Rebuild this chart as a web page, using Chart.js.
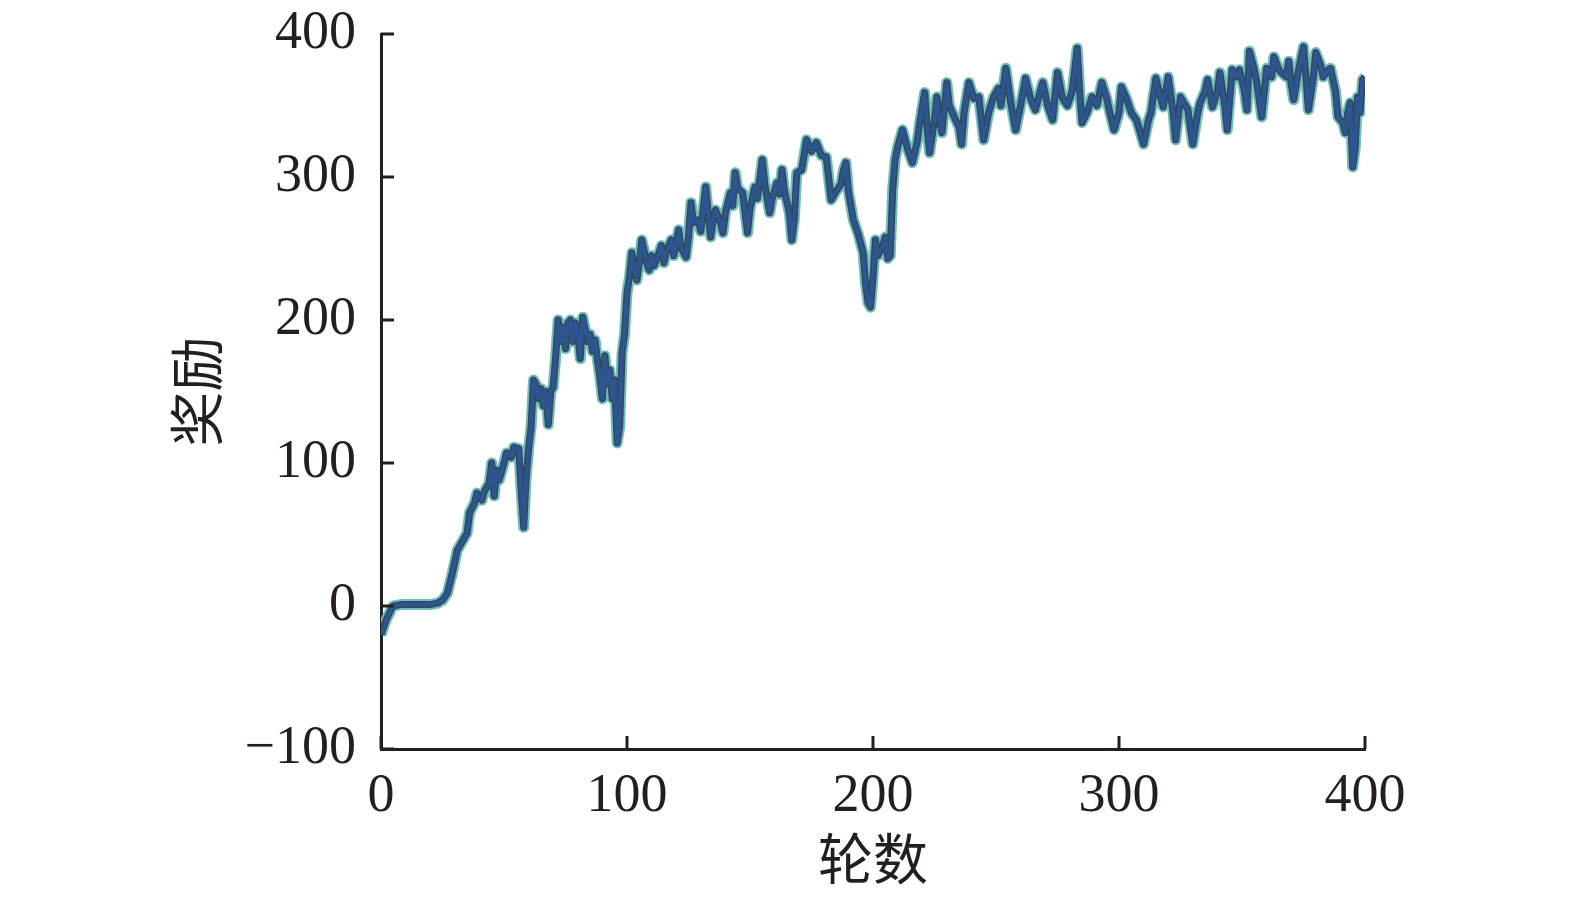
<!DOCTYPE html>
<html>
<head>
<meta charset="utf-8">
<script src="https://cdn.jsdelivr.net/npm/chart.js@4/dist/chart.umd.min.js"></script>
<style>
  body { margin: 0; background: #fff; }
  canvas { display: block; }
</style>
</head>
<body>
<canvas id="myChart" width="1575" height="897"></canvas>
<script>
// episode numbers and reward
var episodes = [0, 2, 4, 5, 8, 12, 16, 20, 23, 25, 27, 29, 31, 33, 35, 36, 38, 39, 41, 42,
    44, 45, 46, 47, 48, 50, 51, 53, 54, 56, 57, 58, 59, 60, 61, 62, 63, 64, 65, 66,
    67, 68, 69, 70, 71, 72, 73, 74, 75, 76, 77, 78, 79, 80, 81, 82, 84, 85, 86, 87,
    88, 89, 90, 91, 92, 93, 94, 95, 96, 97, 98, 99, 100, 101, 102, 103, 104, 105, 106, 107,
    108, 109, 110, 111, 113, 114, 115, 116, 118, 119, 121, 122, 124, 125, 126, 127, 129, 130, 132, 133,
    134, 135, 136, 138, 139, 140, 142, 143, 144, 145, 147, 148, 149, 150, 152, 153, 155, 156, 158, 159,
    161, 162, 163, 164, 166, 167, 168, 169, 171, 173, 175, 177, 179, 181, 183, 185, 187, 188, 189, 190,
    192, 194, 196, 197, 198, 199, 200, 201, 202, 204, 205, 206, 207, 208, 209, 210, 212, 214, 216, 218,
    219, 221, 222, 223, 225, 226, 227, 228, 230, 231, 233, 235, 236, 237, 239, 241, 243, 245, 247, 249,
    251, 252, 254, 256, 258, 260, 262, 264, 266, 268, 269, 271, 273, 275, 277, 279, 281, 283, 284, 285,
    287, 289, 291, 293, 295, 296, 298, 300, 301, 303, 305, 307, 308, 310, 312, 313, 315, 317, 318, 320,
    322, 323, 325, 327, 328, 330, 332, 333, 335, 336, 338, 340, 341, 343, 344, 346, 348, 349, 351, 352,
    353, 355, 356, 358, 360, 362, 363, 365, 366, 368, 369, 370, 371, 373, 375, 376, 377, 379, 380, 382,
    383, 385, 386, 388, 389, 391, 392, 393, 394, 395, 396, 397, 398, 399, 400];

var rewards = [-20, -10, -3, 0, 1, 1, 1, 1, 2, 4, 9, 23, 39, 45, 51, 65, 72, 79, 74, 80,
    86, 100, 77, 95, 88, 100, 107, 104, 111, 110, 80, 55, 90, 110, 125, 158, 155, 145, 152, 140,
    150, 127, 150, 153, 174, 200, 185, 195, 180, 198, 200, 185, 198, 190, 173, 202, 185, 190, 178, 186,
    172, 160, 145, 175, 155, 165, 145, 158, 114, 125, 177, 190, 219, 230, 247, 238, 228, 240, 256, 248,
    240, 235, 245, 238, 247, 252, 240, 248, 256, 245, 263, 250, 244, 258, 282, 268, 270, 262, 293, 275,
    258, 270, 277, 268, 261, 275, 289, 280, 303, 292, 289, 275, 261, 278, 293, 285, 312, 295, 275, 285,
    296, 288, 305, 290, 275, 256, 270, 303, 305, 326, 318, 324, 315, 314, 284, 290, 295, 305, 310, 290,
    270, 260, 247, 225, 212, 209, 230, 256, 245, 252, 258, 243, 245, 291, 312, 321, 333, 320, 310, 325,
    338, 359, 335, 317, 340, 356, 340, 331, 366, 350, 342, 335, 323, 345, 366, 355, 356, 326, 345, 356,
    362, 350, 376, 352, 333, 350, 369, 355, 347, 360, 366, 350, 340, 373, 355, 350, 360, 390, 360, 338,
    345, 356, 350, 366, 355, 347, 333, 345, 363, 355, 345, 340, 335, 323, 340, 345, 369, 355, 349, 370,
    345, 326, 356, 350, 347, 323, 345, 352, 360, 368, 349, 360, 373, 350, 333, 375, 370, 375, 360, 347,
    388, 375, 366, 342, 376, 370, 384, 375, 373, 370, 381, 365, 354, 375, 391, 370, 347, 370, 387, 378,
    370, 375, 376, 360, 342, 338, 331, 345, 352, 307, 320, 356, 345, 368, 370];

var xTicks = [0, 100, 200, 300, 400];
var yTicks = [-100, 0, 100, 200, 300, 400];

var axisColor = '#231f20';
var numFont = { family: '"Liberation Serif", "Times New Roman", serif', size: 54 };
var cjkFont = { family: '"Noto Sans CJK SC", sans-serif', size: 55 };

var points = episodes.map(function (e, i) { return { x: e, y: rewards[i] }; });

// small inward tick marks, like the original figure
var innerTicks = {
    id: 'innerTicks',
    afterDraw: function (chart) {
        var ctx = chart.ctx;
        var xs = chart.scales.x, ys = chart.scales.y;
        ctx.save();
        ctx.strokeStyle = axisColor;
        ctx.lineWidth = 3;
        ctx.beginPath();
        yTicks.forEach(function (v) {
            var py = ys.getPixelForValue(v);
            ctx.moveTo(xs.left, py);
            ctx.lineTo(xs.left + 13, py);
        });
        xTicks.forEach(function (v) {
            var px = xs.getPixelForValue(v);
            ctx.moveTo(px, ys.bottom);
            ctx.lineTo(px, ys.bottom - 13);
        });
        ctx.stroke();
        ctx.restore();
    }
};

// same data drawn three times: light teal edge, dark slate body, blue core
function makeSet(color, width, order) {
    return {
        data: points,
        borderColor: color,
        borderWidth: width,
        order: order,
        pointRadius: 0,
        tension: 0,
        fill: false,
        borderJoinStyle: 'round'
    };
}

var ctx = document.getElementById('myChart').getContext('2d');
var chart = new Chart(ctx, {
    type: 'line',
    data: {
        datasets: [
            makeSet('#74bcbc', 11, 3),
            makeSet('#2b4b5e', 7, 2),
            makeSet('rgba(49, 88, 156, 0.8)', 4, 1)
        ]
    },
    plugins: [innerTicks],
    options: {
        responsive: false,
        animation: false,
        layout: { padding: { left: 0, right: 210, top: 34, bottom: 0 } },
        plugins: {
            legend: { display: false },
            tooltip: { enabled: false }
        },
        scales: {
            x: {
                type: 'linear',
                min: 0,
                max: 400,
                afterFit: function (s) { s.height = 148; s.paddingLeft = 0; s.paddingRight = 0; },
                afterBuildTicks: function (s) { s.ticks = xTicks.map(function (v) { return { value: v }; }); },
                grid: { display: false, drawTicks: false },
                border: { display: true, color: axisColor, width: 3 },
                ticks: { color: axisColor, font: numFont, padding: 15, maxRotation: 0 },
                title: { display: true, text: '轮数', color: axisColor, font: cjkFont, padding: { top: 0, bottom: 6 } }
            },
            y: {
                min: -100,
                max: 400,
                afterFit: function (s) { s.width = 381; s.paddingTop = 0; s.paddingBottom = 0; },
                afterBuildTicks: function (s) { s.ticks = yTicks.map(function (v) { return { value: v }; }); },
                grid: { display: false, drawTicks: false },
                border: { display: true, color: axisColor, width: 3 },
                ticks: {
                    color: axisColor,
                    font: numFont,
                    padding: 25,
                    callback: function (v) { return String(v).replace('-', '\u2212'); }
                },
                title: { display: true, text: '奖励', color: axisColor, font: cjkFont, padding: { top: 163, bottom: 0 } }
            }
        }
    }
});
</script>
</body>
</html>
